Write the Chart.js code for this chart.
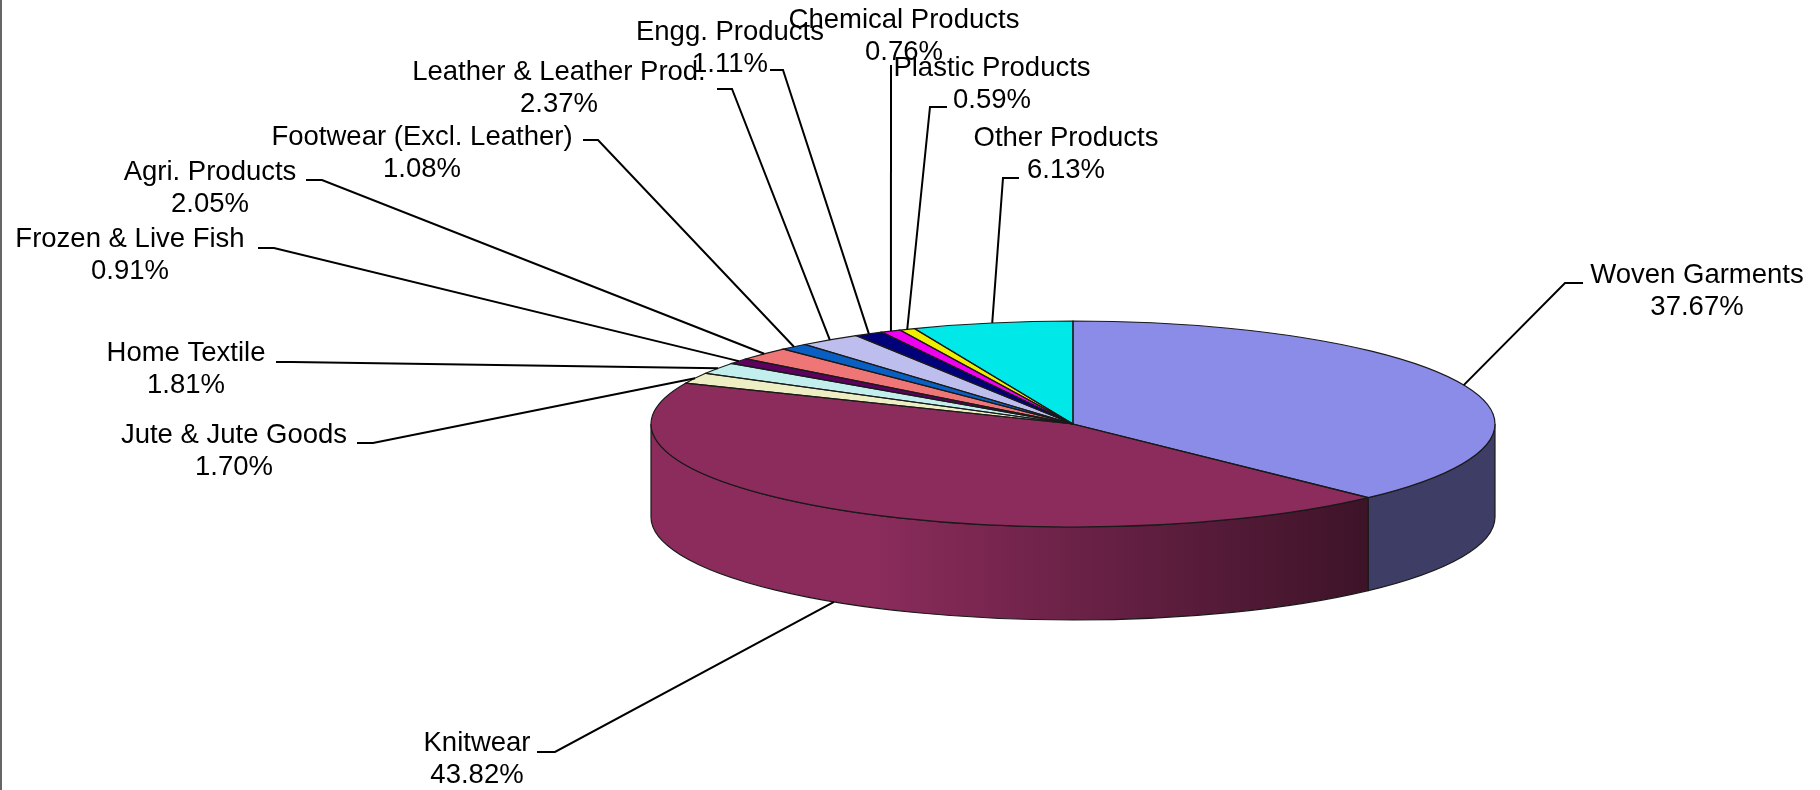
<!DOCTYPE html>
<html>
<head>
<meta charset="utf-8">
<title>Export share by product</title>
<script src="https://cdn.jsdelivr.net/npm/chart.js@4.4.1/dist/chart.umd.min.js"></script>
<style>
    html, body { margin: 0; padding: 0; background: #fff; }
    canvas { display: block; }
</style>
</head>
<body>
<canvas id="export-share" width="1820" height="790"></canvas>
<script>
var products = ["Woven Garments", "Knitwear", "Jute & Jute Goods", "Home Textile", "Frozen & Live Fish", "Agri. Products",
    "Footwear (Excl. Leather)", "Leather & Leather Prod.", "Engg. Products", "Chemical Products", "Plastic Products", "Other Products"];
var shares = [37.67, 43.82, 1.70, 1.81, 0.91, 2.05, 1.08, 2.37, 1.11, 0.76, 0.59, 6.13];
var sliceColors = ["#8b8be8", "#8b2c5c", "#eeeec4", "#c2eeee", "#5e0060", "#ee7676",
    "#0a60c2", "#bebeee", "#00007a", "#f000f0", "#eeee00", "#00e8e8"];

// label text centre (first line) and where its leader starts (x, y, tick length)
var labelAt = [[1697, 275], [477, 743], [234, 435], [186, 353], [130, 239], [210, 172],
    [422, 137], [559, 72], [730, 32], [904, 20], [992, 68], [1066, 138]];
var leaderFrom = [[1583, 283, -18], [537, 752, 18], [357, 443, 16], [276, 362, 16], [258, 248, 16], [306, 180, 16],
    [583, 140, 15], [717, 89, 15], [770, 70, 13], [891, 65, 0], [947, 107, -17], [1019, 178, -16]];

// tilted pie: centre, radii of the top face, wall height
var CX = 1073, CY = 424, RX = 422, RY = 103, DEPTH = 93;

function shade(hex, f) {
    var n = parseInt(hex.slice(1), 16);
    var r = Math.round(((n >> 16) & 255) * f);
    var g = Math.round(((n >> 8) & 255) * f);
    var b = Math.round((n & 255) * f);
    return "rgb(" + r + "," + g + "," + b + ")";
}

var tilt = {
    id: "tilt",
    beforeDatasetsDraw: function (chart) {
        var ctx = chart.ctx;
        var arcs = chart.getDatasetMeta(0).data;
        // front wall, only the part facing us (0..PI)
        arcs.forEach(function (arc, i) {
            var a = Math.max(arc.startAngle, 0), b = Math.min(arc.endAngle, Math.PI);
            if (a >= b) return;
            var grad = ctx.createLinearGradient(CX - RX, 0, CX + RX, 0);
            grad.addColorStop(0, sliceColors[i]);
            grad.addColorStop(0.26, sliceColors[i]);
            grad.addColorStop(0.85, shade(sliceColors[i], 0.44));
            grad.addColorStop(1, shade(sliceColors[i], 0.44));
            ctx.beginPath();
            ctx.ellipse(CX, CY, RX, RY, 0, a, b, false);
            ctx.lineTo(CX + RX * Math.cos(b), CY + DEPTH + RY * Math.sin(b));
            ctx.ellipse(CX, CY + DEPTH, RX, RY, 0, b, a, true);
            ctx.closePath();
            ctx.fillStyle = grad;
            ctx.fill();
            ctx.lineWidth = 1.2;
            ctx.strokeStyle = "#1a1a1a";
            ctx.stroke();
        });
        // squash the round pie into the top face
        var c = arcs[0];
        ctx.save();
        ctx.translate(CX, CY);
        ctx.scale(RX / c.outerRadius, RY / c.outerRadius);
        ctx.translate(-c.x, -c.y);
    },
    afterDatasetsDraw: function (chart) {
        var ctx = chart.ctx;
        ctx.restore();
        var arcs = chart.getDatasetMeta(0).data;

        // slice outlines on the top face
        ctx.lineWidth = 1.2;
        ctx.strokeStyle = "#1a1a1a";
        arcs.forEach(function (arc) {
            var s = arc.startAngle, e = arc.endAngle;
            ctx.beginPath();
            ctx.moveTo(CX, CY);
            ctx.lineTo(CX + RX * Math.cos(s), CY + RY * Math.sin(s));
            ctx.ellipse(CX, CY, RX, RY, 0, s, e, false);
            ctx.closePath();
            ctx.stroke();
        });

        // labels with leader lines
        ctx.font = "27.5px 'Liberation Sans', Arial, sans-serif";
        ctx.textAlign = "center";
        ctx.textBaseline = "middle";
        ctx.fillStyle = "#000";
        ctx.strokeStyle = "#000";
        ctx.lineWidth = 2;
        arcs.forEach(function (arc, i) {
            var t = (arc.startAngle + arc.endAngle) / 2;
            var px = CX + RX * Math.cos(t);
            var py = CY + RY * Math.sin(t);
            if (Math.sin(t) > 0) py += DEPTH;
            var l = leaderFrom[i];
            ctx.beginPath();
            ctx.moveTo(l[0], l[1]);
            ctx.lineTo(l[0] + l[2], l[1]);
            ctx.lineTo(px, py);
            ctx.stroke();
            ctx.fillText(products[i], labelAt[i][0], labelAt[i][1]);
            ctx.fillText(shares[i].toFixed(2) + "%", labelAt[i][0], labelAt[i][1] + 32);
        });

        // frame edge on the left
        ctx.fillStyle = "#666";
        ctx.fillRect(0, 0, 2, chart.height);
    }
};

new Chart("export-share", {
    type: "pie",
    data: {
        labels: products,
        datasets: [
            {
                data: shares,
                backgroundColor: sliceColors,
                borderWidth: 0,
                clip: false,
            },
        ],
    },
    options: {
        responsive: false,
        animation: false,
        events: [],
        plugins: {
            legend: { display: false },
            tooltip: { enabled: false },
        },
    },
    plugins: [tilt],
});
</script>
</body>
</html>
